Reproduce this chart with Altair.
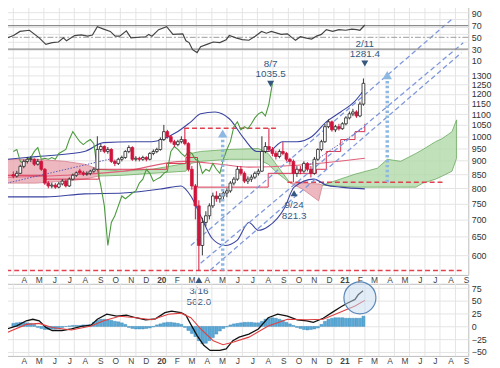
import altair as alt
import numpy as np
import pandas as pd

# ---------------- time base: weekly candles, week 0 = Monday 2019-03-11 ----------------
START = pd.Timestamp("2019-03-11", tz="UTC")
X_DOMAIN = ["2019-02-26T10:00:00Z", "2021-08-26T19:00:00Z"]
FIRST_LABEL = "2019-03-15T00:00:00Z"
GRID_DAY = 11  # vertical grid lines sit between the month labels


def dates(weeks):
    w = np.asarray(weeks, dtype=float)
    d = START + pd.to_timedelta(w * 7, unit="D")
    return [t.strftime("%Y-%m-%dT%H:%M:%SZ") for t in d]


def ms(s):
    return int(pd.Timestamp(s).value // 1_000_000)


# ---------------- weekly OHLC ----------------
OPEN = [848, 843, 853, 879, 898, 906, 906, 887, 898, 868, 818, 808, 811, 804, 815, 825, 808, 832, 846, 862,
        855, 850, 853, 861, 868, 945, 957, 937, 945, 898, 890, 906, 913, 937, 953, 906, 910, 906, 913, 906,
        929, 937, 945, 986, 1020, 998, 977, 965, 977, 986, 969, 868, 808, 742, 626, 691, 711, 742, 774, 765,
        774, 784, 791, 818, 832, 868, 853, 825, 832, 839, 853, 861, 937, 957, 945, 929, 917, 937, 929, 906,
        898, 853, 868, 861, 890, 868, 853, 906, 945, 977, 1042, 1064, 1028, 1042, 1033, 1055, 1082, 1101, 1110, 1091,
        1148]
CLOSE = [843, 853, 879, 898, 906, 908, 887, 898, 868, 818, 808, 811, 804, 815, 825, 808, 832, 846, 855, 855,
         850, 853, 861, 868, 945, 957, 937, 945, 898, 890, 906, 913, 937, 953, 906, 910, 906, 913, 906, 929,
         937, 945, 986, 1020, 998, 977, 965, 977, 986, 969, 868, 808, 742, 626, 691, 711, 742, 774, 765, 774,
         784, 791, 818, 832, 868, 853, 825, 832, 839, 853, 861, 937, 957, 945, 929, 917, 937, 929, 906, 898,
         853, 868, 861, 890, 868, 853, 906, 945, 977, 1042, 1064, 1028, 1042, 1033, 1055, 1082, 1101, 1110, 1091, 1148,
         1255]
HIGH = [860, 862, 885, 905, 915, 918, 910, 908, 902, 872, 825, 820, 818, 822, 832, 830, 838, 852, 860, 870,
        862, 860, 866, 875, 1000, 968, 962, 955, 950, 905, 912, 920, 942, 962, 958, 918, 916, 920, 918, 934,
        945, 952, 995, 1050, 1028, 1005, 985, 985, 1000, 1033, 975, 880, 815, 760, 705, 725, 750, 785, 790, 784,
        792, 800, 825, 840, 880, 880, 860, 842, 848, 860, 870, 1000, 975, 1035.5, 955, 940, 945, 975, 935, 912,
        905, 880, 880, 898, 895, 880, 915, 950, 985, 1055, 1075, 1070, 1050, 1055, 1062, 1090, 1112, 1125, 1118, 1160,
        1281.4]
LOW = [835, 838, 850, 872, 890, 895, 880, 882, 862, 812, 800, 800, 798, 800, 810, 803, 805, 828, 840, 850,
       843, 844, 846, 855, 865, 935, 930, 928, 892, 880, 884, 898, 908, 930, 900, 898, 898, 900, 898, 902,
       922, 930, 940, 980, 990, 970, 955, 958, 970, 962, 860, 795, 700, 562, 600, 680, 700, 735, 755, 752,
       762, 770, 785, 810, 826, 845, 818, 815, 822, 832, 845, 858, 930, 935, 918, 905, 910, 922, 898, 885,
       821.3, 840, 850, 855, 860, 838, 848, 900, 938, 972, 1035, 1020, 1018, 1025, 1028, 1048, 1075, 1090, 1082, 1085,
       1140]

# ---------------- overlays ----------------
BB_UP_W = [-1.8, 3.7, 10.6, 20.3, 25.8, 34.1, 39.6, 46.5, 50.7, 53.5, 57.6, 61.7, 65.9, 69.5, 72.8, 76.9, 81.1,
           85.2, 89.4, 93.5, 97.6, 100.4]
BB_UP_P = [906, 913, 921, 937, 973, 977, 977, 1016, 1064, 1101, 1110, 1078, 990, 937, 937, 977, 977, 998, 1064,
           1110, 1163, 1226]
BB_LO_W = [-1.8, 9.3, 20.3, 31.4, 42.4, 47.9, 50.7, 53.5, 56.8, 60.4, 63.9, 67.3, 70.0, 72.8, 77.5, 80.2, 85.8,
           89.4, 93.5, 100.4]
BB_LO_P = [771, 771, 781, 784, 798, 808, 774, 711, 645, 626, 640, 691, 668, 679, 736, 804, 832, 811, 804, 798]
MA_W = [-1.8, 14.8, 31.4, 48.8, 59, 67.3, 81.1, 100.4]
MA_P = [839, 846, 861, 898, 887, 876, 883, 910]
KIJUN_W = [-1.8, 9.3, 24.4, 43.8, 49.3, 52.6, 71.4, 72.8, 86.6, 89.4, 93.5, 97.6, 100.4]
KIJUN_P = [846, 832, 868, 890, 913, 804, 804, 853, 868, 937, 986, 1020, 1055]
LAG = 26  # chikou span: close plotted 26 weeks back

CLOUD = [
    ("pink", 1, [-1.8, 6.5, 14.8, 20.3, 24.4], [906, 906, 898, 887, 868], [818, 818, 825, 832, 843]),
    ("green", 2, [24.4, 31.4, 39.6, 49.3, 50.7, 53.5, 61.7, 70, 72.8, 75.5, 79.1],
     [868, 861, 868, 890, 929, 937, 945, 949, 929, 879, 818],
     [843, 846, 853, 861, 890, 898, 906, 906, 887, 853, 818]),
    ("pink", 3, [79.1, 82.5, 87.2, 88.3], [818, 818, 815, 811], [818, 798, 758, 811]),
    ("green", 4, [88.3, 97.6, 104, 106.8, 110.6, 115, 117, 120.6, 122.5, 125.3, 126.6],
     [811, 850, 872, 906, 898, 929, 945, 977, 990, 1020, 1073],
     [811, 804, 804, 804, 804, 804, 818, 832, 843, 861, 910]),
]

CHANNELS = [(50.7, 626, 125.3, 1653), (53.5, 580, 128.5, 1493), (56.2, 563, 128.0, 1431)]
TRENDS = [(-1.8, 818, 28.6, 910), (81.9, 861, 100.4, 1042)]  # dotted trend lines
LEVELS = [(1035.5, 48.8, 75.0), (821.3, 78.3, 123.3), (562.0, -2.0, 128.5)]
ARROWS = [(59.8, 562, 1000, 1012), (106.8, 821.3, 1285, 1300)]

RSI_W = [-1.8, 0.05, 1.9, 4.6, 7.4, 9.3, 11.1, 12.9, 14.3, 15.2, 17.5, 19.4, 21.2, 22.6, 24, 25.8, 27.7, 29.1,
         30.4, 32.3, 33.6, 37.8, 38.7, 39.6, 41.5, 43.8, 45.6, 48.4, 49.3, 50.2, 51.2, 52.5, 53.5, 55.3, 57.1,
         59, 60.8, 61.7, 63.6, 65.4, 67.3, 69.1, 70.9, 72.3, 73.7, 76.5, 78.3, 79.7, 80.6, 82, 83.4, 85.2, 86.6,
         88, 89.4, 91.2, 93, 94.9, 96.7, 98.1, 99, 100.4]
RSI_V = [49, 53, 60, 62, 49, 38, 41, 42, 49, 44, 53, 54, 52, 54, 68, 64, 60, 52, 52, 61, 49, 51, 55, 52, 63, 68,
         55, 56, 44, 41, 29, 24, 34, 38, 42, 41, 46, 53, 49, 46, 45, 52, 60, 57, 60, 55, 56, 49, 45, 51, 49, 47,
         52, 55, 63, 60, 63, 62, 64, 63, 62, 71]

MACD_W = [-1.8, 1, 3.7, 5.6, 7.4, 9.3, 11.1, 13.9, 16.6, 19.4, 22.2, 24, 26.7, 29.5, 32.3, 35, 37.8, 40.6, 43.3,
          45.2, 47.9, 49.3, 50.7, 52.5, 54.4, 56.2, 59, 60.8, 62.7, 64.5, 67.3, 70, 72.8, 75.5, 78.3, 81.1, 83.8,
          85.7, 88.5, 91.2, 93.5, 95.5, 97.6, 98.5, 99.9]
MACD_V = [-5, 1, 11, 14, 11, -2, -8, -8, -5, 0, 2.5, 14, 24, 20, 22, 17, 13, 15, 27, 30, 27, 22, 4, -18, -37,
          -47, -47, -44, -28, -21, -15, -5, 17, 24, 20, 13, 11, 8, 16, 28, 38, 46, 53, 62, 70]
SIG_W = [-1.8, 3.7, 7.4, 11.1, 16.6, 22.2, 25.8, 30.4, 35, 39.6, 44.3, 47.9, 50.7, 53.5, 57.1, 59.9, 62.7, 67.3,
         72.8, 78.3, 83.8, 88.5, 93, 97.6, 100.4]
SIG_V = [-12, 4, 6, -2, -7, 1, 11, 20, 17, 13, 24, 26, 17, -5, -28, -36, -31, -21, 1, 14, 13, 14, 27, 40, 51]
HIST = [6, 7, 8, 8, 7, 6, 4,
        -2, -4, -6, -6, -5, -5, -4, -2,
        0, 1, 2, 2, 2, 3, 3, 4,
        8, 12, 14, 14, 13, 12, 10, 9, 7, 4,
        -2, -4, -5, -5, -5, -4, -3, -1,
        3, 5, 7, 8, 8, 7, 6, 4,
        -2, -8, -14, -20,
        -28, -34, -33, -28, -22,
        -15, -9, -4, -1,
        3, 5, 6, 7, 8, 8, 8, 7, 7,
        10, 14, 16, 17, 16, 14, 12,
        8, 5, 2,
        -2, -4, -6, -7, -6, -5, -3,
        4, 10, 14, 16, 17, 17, 17, 16, 16, 16, 16, 16,
        20]
HILITE = (99, 56)

# annotations: week, [(price, text)], triangle price, triangle shape
ANNOTS = [
    (73.5, [(1362, "8/7"), (1306, "1035.5")], 1252, "triangle-down"),
    (100.4, [(1484, "2/11"), (1423, "1281.4")], 1366, "triangle-down"),
    (53.0, [(514, "3/16"), (491, "562.0")], 540, "triangle-up"),
    (80.2, [(746, "9/24"), (710, "821.3")], 783, "triangle-up"),
]

# ---------------- scales & axes ----------------
W, H_TOP, H_MACD = 472, 275, 73
XSCALE = alt.Scale(type="utc", domain=[ms(X_DOMAIN[0]), ms(X_DOMAIN[1])], nice=False)
XAX = alt.Axis(
    tickCount={"interval": "month", "step": 1},
    labelExpr=f"datum.value < {ms(FIRST_LABEL)} ? '' : (utcmonth(datum.value) == 0 ? "
              "utcFormat(datum.value, '%y') : substring(utcFormat(datum.value, '%b'), 0, 1))",
    labelFontWeight={"condition": {"test": "utcmonth(datum.value) == 0", "value": "bold"}, "value": "normal"},
    grid=False, domain=False, ticks=False, tickSize=0, labelPadding=1,
    labelFontSize=8.5, labelFont="Liberation Sans", labelColor="#444", labelAngle=0,
    labelOverlap=False, labelFlush=False, title=None)


def xe(field="date"):
    return alt.X(f"{field}:T", scale=XSCALE, axis=XAX, title=None)


PSCALE = alt.Scale(type="log", domain=[551.7, 1769], nice=False)
PAXIS = alt.Axis(orient="right", values=list(range(600, 1751, 50)),
                 labelExpr="datum.value > 1300 ? '' : format(datum.value, 'd')",
                 grid=True, gridColor="#e4e4e4", domain=False, ticks=False, labelPadding=3,
                 labelFontSize=9, labelFont="Liberation Sans", labelColor="#333", title=None)


def yp(field):
    return alt.Y(f"{field}:Q", scale=PSCALE, axis=PAXIS, title=None)


RSCALE = alt.Scale(domain=[0, 100], range=[64.2, 4.7], nice=False, zero=False)
RAXIS = alt.Axis(orient="right", values=[10, 30, 50, 70, 90], grid=False, domain=False, ticks=False,
                 labelPadding=3, labelFontSize=9, labelFont="Liberation Sans", labelColor="#333", title=None)

MSCALE = alt.Scale(domain=[-57.8, 83.5], nice=False, zero=False)
MAXIS = alt.Axis(orient="right", values=[-50, -25, 0, 25, 50, 75], grid=True, gridColor="#e4e4e4",
                 domain=False, ticks=False, labelPadding=3, labelFontSize=9, labelFont="Liberation Sans",
                 labelColor="#333", title=None)

# ---------------- data frames ----------------
n = len(CLOSE)
cdf = pd.DataFrame({"date": dates(range(n)), "open": OPEN, "close": CLOSE, "high": HIGH, "low": LOW})


def line_df(ws, vs):
    return pd.DataFrame({"date": dates(ws), "v": vs})


def seg_df(segs):
    rows = []
    for i, (w0, p0, w1, p1) in enumerate(segs):
        d0, d1 = dates([w0, w1])
        rows += [{"date": d0, "v": p0, "id": i}, {"date": d1, "v": p1, "id": i}]
    return pd.DataFrame(rows)


grid_dates = pd.date_range("2019-03-01", "2021-08-01", freq="MS", tz="UTC") + pd.Timedelta(days=GRID_DAY - 1)
grid_df = pd.DataFrame({"date": [t.strftime("%Y-%m-%dT%H:%M:%SZ") for t in grid_dates]})

cloud_rows = []
for kind, seg, ws, tops, bots in CLOUD:
    for d, t, b in zip(dates(ws), tops, bots):
        cloud_rows.append({"date": d, "top": t, "bot": b, "seg": seg, "kind": kind})
cloud_df = pd.DataFrame(cloud_rows)

chan_df = seg_df(CHANNELS)
trend_df = seg_df(TRENDS)
lvl_df = seg_df([(w0, p, w1, p) for p, w0, w1 in LEVELS])

arr_df = pd.DataFrame({"date": dates([a[0] for a in ARROWS]), "p0": [a[1] for a in ARROWS],
                       "p1": [a[2] for a in ARROWS], "head": [a[3] for a in ARROWS]})

txt_rows, tri_rows = [], []
for w, texts, tp, shape in ANNOTS:
    d = dates([w])[0]
    for p, t in texts:
        txt_rows.append({"date": d, "v": p, "t": t})
    tri_rows.append({"date": d, "v": tp, "shape": shape})
txt_df = pd.DataFrame(txt_rows)
tri_df = pd.DataFrame(tri_rows)

lag_df = line_df(list(range(n - LAG)), CLOSE[LAG:])

# ---------------- main panel layers ----------------
RED = "#d0143c"
up = "datum.close >= datum.open"

vgrid = alt.Chart(grid_df).mark_rule(color="#e4e4e4", strokeWidth=1).encode(x=xe())

cloud_pink = alt.Chart(cloud_df).transform_filter("datum.kind == 'pink'").mark_area(
    fill="#eaa6b0", fillOpacity=0.8, stroke="#d4808e", strokeWidth=0.8).encode(
    x=xe(), y=yp("top"), y2="bot:Q", detail="seg:N")
cloud_green = alt.Chart(cloud_df).transform_filter("datum.kind == 'green'").mark_area(
    fill="#b2d9aa", fillOpacity=0.8, stroke="#6aaa5e", strokeWidth=0.8).encode(
    x=xe(), y=yp("top"), y2="bot:Q", detail="seg:N")

levels = alt.Chart(lvl_df).mark_line(color="#e2404f", strokeDash=[5, 3], strokeWidth=1.5).encode(
    x=xe(), y=yp("v"), detail="id:N")

bb_up = alt.Chart(line_df(BB_UP_W, BB_UP_P)).mark_line(color="#3a44a0", strokeWidth=1.1,
                                                      interpolate="monotone").encode(x=xe(), y=yp("v"))
bb_lo = alt.Chart(line_df(BB_LO_W, BB_LO_P)).mark_line(color="#3a44a0", strokeWidth=1.1,
                                                      interpolate="monotone").encode(x=xe(), y=yp("v"))
ma = alt.Chart(line_df(MA_W, MA_P)).mark_line(color="#e0607a", strokeWidth=1.1,
                                              interpolate="monotone").encode(x=xe(), y=yp("v"))
kijun = alt.Chart(line_df(KIJUN_W, KIJUN_P)).mark_line(color="#d8304e", strokeWidth=1,
                                                      interpolate="step-after").encode(x=xe(), y=yp("v"))
lag = alt.Chart(lag_df).mark_line(color="#4c9a3e", strokeWidth=1.1).encode(x=xe(), y=yp("v"))

chan = alt.Chart(chan_df).mark_line(color="#7f98dc", strokeDash=[5, 3], strokeWidth=1.3).encode(
    x=xe(), y=yp("v"), detail="id:N")
trend = alt.Chart(trend_df).mark_line(color="#5a5ab4", strokeDash=[1.5, 1.5], strokeWidth=1).encode(
    x=xe(), y=yp("v"), detail="id:N")

wick = alt.Chart(cdf).mark_rule(strokeWidth=1).encode(
    x=xe(), y=yp("low"), y2="high:Q",
    color=alt.condition(up, alt.value("#333333"), alt.value(RED)))
body = alt.Chart(cdf).mark_bar(size=2.8, strokeWidth=0.8).encode(
    x=xe(), y=yp("open"), y2="close:Q",
    fill=alt.condition(up, alt.value("white"), alt.value(RED)),
    stroke=alt.condition(up, alt.value("#222222"), alt.value(RED)))

arrow = alt.Chart(arr_df).mark_rule(color="#8cb8e2", strokeDash=[2.5, 2.5], strokeWidth=3.5).encode(
    x=xe(), y=yp("p0"), y2="p1:Q")
arrow_head = alt.Chart(arr_df).mark_point(shape="triangle-up", filled=True, size=90, color="#8cb8e2",
                                          opacity=1).encode(x=xe(), y=yp("head"))

ann_col = "#34587e"
ann_text = alt.Chart(txt_df).mark_text(fontSize=10, font="Liberation Sans", color=ann_col,
                                       baseline="middle", align="center").encode(x=xe(), y=yp("v"), text="t:N")
tri_down = alt.Chart(tri_df).transform_filter("datum.shape == 'triangle-down'").mark_point(
    shape="triangle-down", filled=True, size=50, color=ann_col, opacity=1).encode(x=xe(), y=yp("v"))
tri_up = alt.Chart(tri_df).transform_filter("datum.shape == 'triangle-up'").mark_point(
    shape="triangle-up", filled=True, size=50, color=ann_col, opacity=1).encode(x=xe(), y=yp("v"))

price_group = alt.layer(vgrid, cloud_pink, cloud_green, levels, bb_up, bb_lo, ma, kijun, lag, chan, trend,
                        wick, body, arrow, arrow_head, ann_text, tri_down, tri_up)

# ---------------- RSI overlay ----------------
rsi_ref = alt.Chart(pd.DataFrame({"v": [70, 30]})).mark_rule(color="#8c8c8c", strokeWidth=1.2).encode(
    y=alt.Y("v:Q", scale=RSCALE, axis=RAXIS, title=None))
rsi_mid = alt.Chart(pd.DataFrame({"v": [50]})).mark_rule(color="#9a9a9a", strokeWidth=1,
                                                        strokeDash=[6, 2, 2, 2]).encode(
    y=alt.Y("v:Q", scale=RSCALE, axis=RAXIS, title=None))
rsi_line = alt.Chart(line_df(RSI_W, RSI_V)).mark_line(color="#444444", strokeWidth=1.2).encode(
    x=xe(), y=alt.Y("v:Q", scale=RSCALE, axis=RAXIS, title=None))
rsi_group = alt.layer(rsi_ref, rsi_mid, rsi_line)

top = alt.layer(price_group, rsi_group).resolve_scale(y="independent").properties(width=W, height=H_TOP)

# ---------------- MACD panel ----------------
hist_df = pd.DataFrame({"date": dates(range(len(HIST))), "h": HIST, "z": 0})
mgrid = alt.Chart(grid_df).mark_rule(color="#e4e4e4", strokeWidth=1).encode(x=xe())
hist = alt.Chart(hist_df).mark_bar(size=3, color="#5aa9d6", stroke="#2f7fb5", strokeWidth=0.4).encode(
    x=xe(), y=alt.Y("h:Q", scale=MSCALE, axis=MAXIS, title=None), y2="z:Q")
macd = alt.Chart(line_df(MACD_W, MACD_V)).mark_line(color="#111111", strokeWidth=1.3).encode(
    x=xe(), y=alt.Y("v:Q", scale=MSCALE, axis=MAXIS, title=None))
sig = alt.Chart(line_df(SIG_W, SIG_V)).mark_line(color="#e04040", strokeWidth=1.1).encode(
    x=xe(), y=alt.Y("v:Q", scale=MSCALE, axis=MAXIS, title=None))
hl = alt.Chart(line_df([HILITE[0]], [HILITE[1]])).mark_point(
    shape="circle", filled=True, size=1050, fill="#c6dbf0", fillOpacity=0.5, stroke="#5a86b8",
    strokeWidth=1.2, strokeOpacity=1).encode(x=xe(), y=alt.Y("v:Q", scale=MSCALE, axis=MAXIS, title=None))

bottom = alt.layer(mgrid, hist, macd, sig, hl).properties(width=W, height=H_MACD)

chart = alt.vconcat(top, bottom, spacing=9, bounds="flush").properties(
    padding={"left": -8, "top": -8, "right": 0, "bottom": 0}, background="white"
).configure_view(stroke="#bdbdbd", strokeWidth=1)

chart.save("out.html", embed_options={"renderer": "svg", "actions": False})
